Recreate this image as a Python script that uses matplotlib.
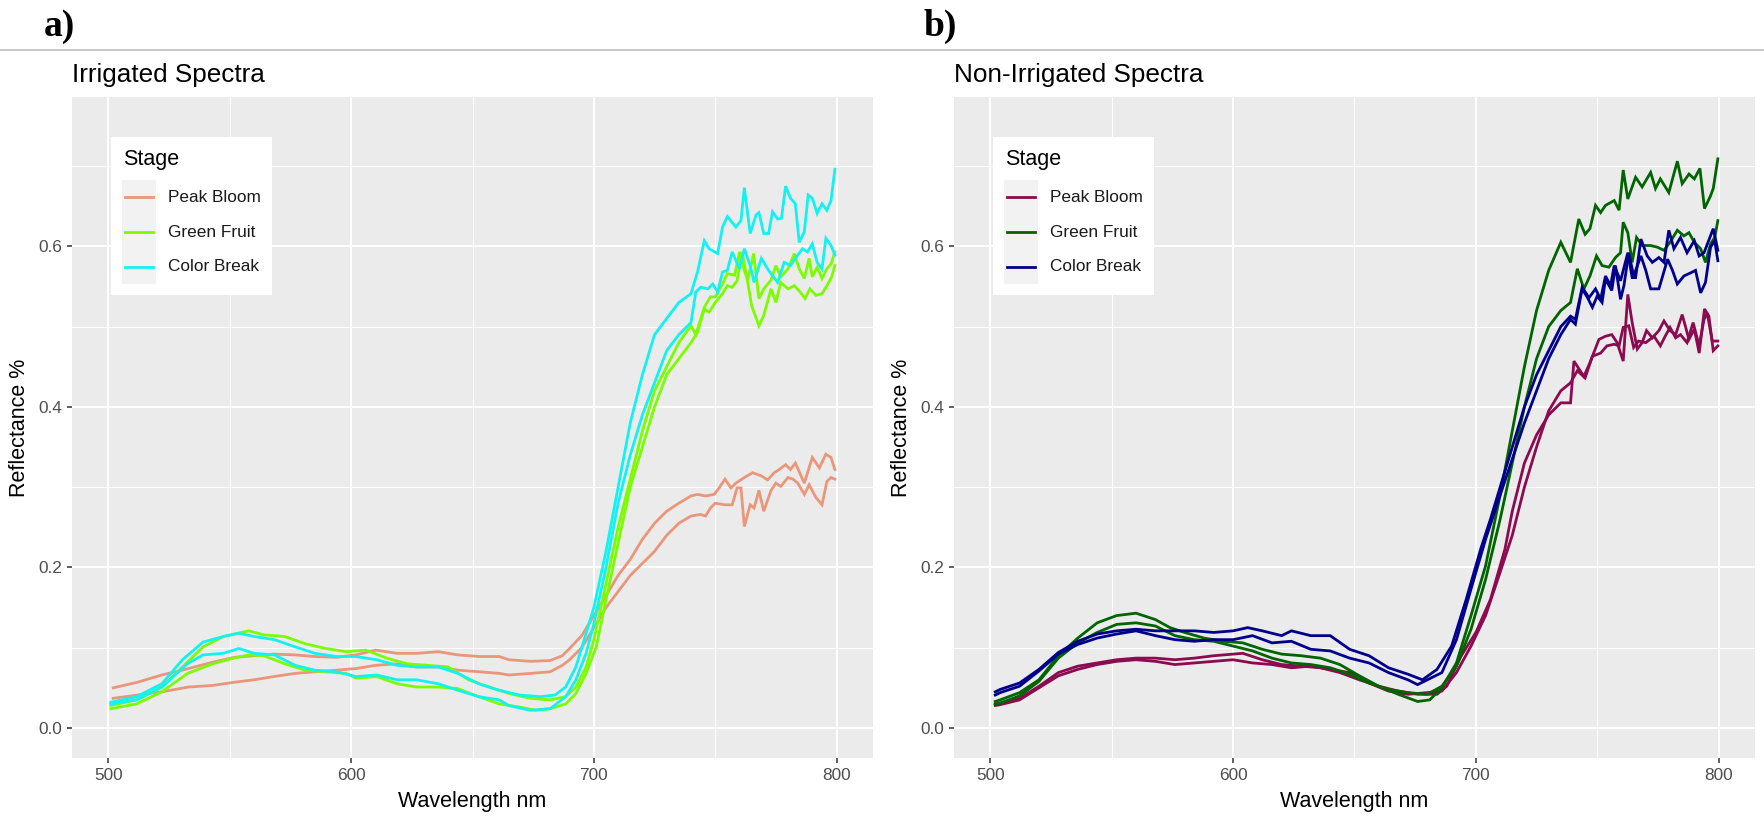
import matplotlib
matplotlib.use("Agg")
import matplotlib.pyplot as plt
from matplotlib.patches import Rectangle
from matplotlib.lines import Line2D

# ---------------- data ----------------
stages = ["Peak Bloom", "Green Fruit", "Color Break"]
colors_a = ["#E9967A", "#7CFC00", "#12F2F2"]
colors_b = ["#8B0A50", "#006400", "#00008B"]
panel_titles = ["Irrigated Spectra", "Non-Irrigated Spectra"]
panel_tags = ["a)", "b)"]
x_ticks = [500, 600, 700, 800]
y_ticks = [0.0, 0.2, 0.4, 0.6]

# Irrigated, Peak Bloom
a_pb1_wl = [502, 512, 522, 533, 543, 552, 560, 568, 577, 585, 594, 602, 610, 619, 627, 636, 644, 653, 661, 665, 674, 682, 687, 690, 695, 700, 705, 710, 715, 720, 725, 730, 735, 740,
            742.7, 746, 749.6, 751.6, 754, 756.5, 758.5, 762, 765.4, 769, 771.6, 774.3, 776.4, 779, 781, 783, 786.7, 790, 792.9, 795.6, 797.7, 799.3]
a_pb1_r = [0.050, 0.057, 0.066, 0.074, 0.082, 0.088, 0.090, 0.092, 0.091, 0.089, 0.088, 0.091, 0.097, 0.093, 0.093, 0.095, 0.091, 0.089, 0.089, 0.085, 0.083, 0.084, 0.090, 0.099, 0.115, 0.140, 0.165, 0.190, 0.210, 0.235, 0.255, 0.270, 0.280, 0.289,
           0.291, 0.289, 0.291, 0.299, 0.310, 0.299, 0.305, 0.312, 0.318, 0.314, 0.309, 0.318, 0.322, 0.328, 0.322, 0.330, 0.305, 0.337, 0.324, 0.341, 0.337, 0.322]
a_pb2_wl = [502, 512, 522, 533, 543, 552, 560, 568, 577, 585, 594, 602, 610, 619, 627, 636, 644, 653, 661, 665, 674, 682, 687, 690, 695, 700, 705, 710, 715, 720, 725, 730, 735, 740,
            744, 746, 748, 750, 754, 757, 759, 760.6, 762, 764.4, 766, 768, 770, 773, 775, 777, 780, 782, 784, 786.7, 788.7, 791.5, 794, 796, 797.7, 799.3]
a_pb2_r = [0.037, 0.041, 0.045, 0.051, 0.053, 0.057, 0.060, 0.064, 0.068, 0.070, 0.072, 0.074, 0.078, 0.080, 0.076, 0.076, 0.072, 0.070, 0.068, 0.066, 0.068, 0.070, 0.078, 0.085, 0.100, 0.125, 0.150, 0.170, 0.190, 0.205, 0.220, 0.240, 0.255, 0.264,
           0.266, 0.264, 0.274, 0.280, 0.278, 0.278, 0.299, 0.299, 0.251, 0.278, 0.274, 0.296, 0.270, 0.296, 0.305, 0.301, 0.312, 0.310, 0.305, 0.291, 0.303, 0.287, 0.278, 0.307, 0.312, 0.310]

# Irrigated, Green Fruit
a_gf1_wl = [501, 511.6, 522, 530.5, 539, 547.4, 557.9, 564, 572.6, 581, 589.5, 598, 606, 614.7, 623, 631.6, 640, 648.4, 656.8, 665, 673.7, 682, 688.4, 692.6, 696.8, 700, 705, 710, 715, 720, 725, 730, 735, 740,
            742, 745.5, 748, 750, 753, 755, 758, 760, 762, 763.4, 765.8, 768, 770, 773, 775, 777, 780, 782.6, 784.6, 786.7, 788.7, 790, 792, 794, 796, 797.7, 799.3]
a_gf1_r = [0.028, 0.035, 0.051, 0.076, 0.101, 0.114, 0.121, 0.116, 0.114, 0.105, 0.099, 0.095, 0.097, 0.087, 0.080, 0.078, 0.076, 0.060, 0.051, 0.043, 0.037, 0.035, 0.039, 0.051, 0.076, 0.110, 0.180, 0.250, 0.310, 0.370, 0.420, 0.450, 0.480, 0.501,
           0.490, 0.524, 0.537, 0.537, 0.553, 0.566, 0.564, 0.593, 0.570, 0.558, 0.591, 0.535, 0.547, 0.558, 0.576, 0.562, 0.572, 0.591, 0.572, 0.560, 0.585, 0.562, 0.574, 0.560, 0.572, 0.578, 0.593]
a_gf2_wl = [501, 511.6, 522, 532.6, 543, 551.6, 557.9, 564, 572.6, 581, 589.5, 598, 602, 610.5, 619, 627, 636, 644, 652.6, 661, 669.5, 676, 682, 688.4, 692.6, 696.8, 701, 705, 710, 715, 720, 725, 730, 735, 740,
            742.7, 745.5, 747.5, 750, 753, 755, 757, 759, 761, 763.4, 765, 768, 770, 773, 775, 777, 780, 782.6, 785, 787, 789, 791.5, 794, 796, 798, 799.3]
a_gf2_r = [0.024, 0.030, 0.045, 0.068, 0.080, 0.087, 0.091, 0.090, 0.080, 0.072, 0.070, 0.068, 0.062, 0.064, 0.055, 0.051, 0.051, 0.049, 0.039, 0.030, 0.026, 0.022, 0.024, 0.030, 0.043, 0.068, 0.101, 0.160, 0.230, 0.300, 0.350, 0.400, 0.440, 0.460, 0.480,
           0.493, 0.522, 0.518, 0.530, 0.541, 0.551, 0.549, 0.557, 0.593, 0.555, 0.526, 0.501, 0.514, 0.547, 0.530, 0.555, 0.547, 0.551, 0.543, 0.535, 0.547, 0.539, 0.541, 0.551, 0.562, 0.576]

# Irrigated, Color Break
a_cb1_wl = [501, 511.6, 522, 530.5, 539, 547.4, 553.7, 560, 568.4, 577, 585, 594, 602, 610.5, 619, 627, 636, 644, 652.6, 661, 669.5, 678, 684, 688.4, 692.6, 696.8, 700, 705, 710, 715, 720, 725, 730, 735, 740,
            742.7, 745.5, 747.5, 751, 753, 755, 758.5, 760.6, 762, 764.4, 766.8, 768, 770, 772, 773.6, 775.7, 777.3, 779, 781, 783, 784.6, 786.7, 788.3, 790, 792, 794, 796, 797.7, 799.3]
a_cb1_r = [0.032, 0.039, 0.055, 0.085, 0.107, 0.114, 0.118, 0.114, 0.110, 0.101, 0.093, 0.089, 0.089, 0.085, 0.078, 0.076, 0.076, 0.068, 0.055, 0.047, 0.041, 0.039, 0.041, 0.051, 0.076, 0.118, 0.150, 0.220, 0.300, 0.380, 0.440, 0.490, 0.510, 0.530, 0.541,
           0.568, 0.607, 0.597, 0.591, 0.624, 0.637, 0.624, 0.632, 0.673, 0.616, 0.639, 0.642, 0.616, 0.616, 0.643, 0.634, 0.635, 0.675, 0.660, 0.653, 0.605, 0.618, 0.664, 0.660, 0.641, 0.653, 0.645, 0.657, 0.696]
a_cb2_wl = [501, 511.6, 522, 532.6, 539, 547.4, 553.7, 560, 568.4, 577, 585, 594, 602, 610.5, 619, 627, 636, 644, 652.6, 661, 665, 673.7, 682, 688.4, 692.6, 696.8, 700, 705, 710, 715, 720, 725, 730, 735, 740,
            742, 744, 747, 749, 751, 753, 755, 757, 760, 762, 764.4, 766, 769, 772, 775.7, 778.4, 781, 783, 786, 788, 790, 792, 794, 795.6, 797.7, 799.3]
a_cb2_r = [0.030, 0.035, 0.051, 0.080, 0.091, 0.093, 0.099, 0.093, 0.091, 0.078, 0.072, 0.070, 0.064, 0.066, 0.060, 0.060, 0.055, 0.047, 0.039, 0.035, 0.028, 0.022, 0.024, 0.039, 0.060, 0.093, 0.130, 0.200, 0.280, 0.340, 0.390, 0.430, 0.470, 0.490, 0.505,
           0.543, 0.549, 0.547, 0.553, 0.543, 0.568, 0.570, 0.593, 0.572, 0.597, 0.576, 0.555, 0.585, 0.570, 0.555, 0.580, 0.576, 0.585, 0.597, 0.593, 0.603, 0.580, 0.572, 0.610, 0.601, 0.589]

# Non-irrigated, Peak Bloom
b_pb1_wl = [502, 504, 512, 520, 528, 536, 544, 552, 560, 568, 576, 584, 592, 600, 604, 612, 620, 628, 636, 644, 652, 660, 668, 676, 684, 688, 694, 700, 706, 712, 715, 720, 725, 730, 735, 739,
            740.4, 744.5, 747, 750.7, 753.4, 756, 758.2, 760.7, 762.6, 764.4, 766.5, 768.5, 770.3, 772.7, 775.4, 777.5, 780, 782.3, 785, 787.8, 790, 792, 794.2, 796, 797.8, 799.7]
b_pb1_r = [0.030, 0.031, 0.037, 0.052, 0.069, 0.077, 0.081, 0.085, 0.087, 0.087, 0.085, 0.087, 0.090, 0.092, 0.093, 0.085, 0.079, 0.077, 0.075, 0.069, 0.060, 0.052, 0.046, 0.042, 0.042, 0.052, 0.090, 0.119, 0.160, 0.223, 0.270, 0.330, 0.365, 0.390, 0.405, 0.405,
           0.457, 0.438, 0.455, 0.484, 0.488, 0.490, 0.480, 0.457, 0.540, 0.505, 0.472, 0.480, 0.495, 0.486, 0.495, 0.507, 0.495, 0.490, 0.515, 0.484, 0.497, 0.467, 0.522, 0.513, 0.470, 0.476]
b_pb2_wl = [502, 504, 512, 520, 528, 536, 544, 552, 560, 568, 576, 584, 592, 600, 608, 616, 624, 632, 640, 648, 656, 664, 672, 680, 686, 692, 698, 704, 710, 715, 720, 725, 730, 735, 739,
            741.8, 745, 748, 751.4, 754, 757, 759, 760.7, 763, 765, 767, 770, 773.4, 776, 778, 780, 782.3, 784.3, 787, 789.5, 792, 794, 795.3, 797.4, 799.7]
b_pb2_r = [0.028, 0.029, 0.035, 0.050, 0.065, 0.073, 0.079, 0.083, 0.085, 0.083, 0.079, 0.081, 0.083, 0.085, 0.081, 0.079, 0.075, 0.077, 0.073, 0.069, 0.056, 0.046, 0.042, 0.044, 0.046, 0.069, 0.102, 0.140, 0.194, 0.240, 0.300, 0.350, 0.395, 0.420, 0.430,
           0.445, 0.436, 0.463, 0.467, 0.476, 0.478, 0.476, 0.499, 0.501, 0.474, 0.482, 0.480, 0.488, 0.476, 0.488, 0.499, 0.486, 0.490, 0.480, 0.505, 0.476, 0.509, 0.517, 0.482, 0.482]

# Non-irrigated, Green Fruit
b_gf1_wl = [502, 504, 512, 520, 528, 536, 544, 552, 560, 568, 574, 580, 588, 596, 604, 612, 620, 628, 636, 644, 652, 660, 668, 676, 681, 686, 692, 698, 704, 710, 715, 720, 725, 730, 735, 739,
            742.4, 745, 747, 749.3, 751.4, 753.4, 757, 759, 760.7, 762.6, 765.8, 768.5, 772, 774, 776, 779.5, 783, 785, 787.8, 790, 792.3, 794.2, 796.7, 797.8, 799.7]
b_gf1_r = [0.033, 0.035, 0.044, 0.060, 0.090, 0.112, 0.131, 0.140, 0.143, 0.135, 0.125, 0.119, 0.112, 0.108, 0.106, 0.098, 0.092, 0.090, 0.087, 0.079, 0.065, 0.052, 0.042, 0.033, 0.035, 0.050, 0.081, 0.140, 0.202, 0.290, 0.370, 0.450, 0.520, 0.570, 0.605, 0.580,
           0.634, 0.615, 0.622, 0.651, 0.642, 0.651, 0.657, 0.645, 0.695, 0.659, 0.686, 0.674, 0.692, 0.672, 0.684, 0.667, 0.706, 0.678, 0.690, 0.684, 0.697, 0.647, 0.663, 0.672, 0.709]
b_gf2_wl = [502, 504, 512, 520, 528, 536, 544, 552, 560, 568, 576, 584, 592, 600, 608, 616, 624, 632, 640, 648, 656, 664, 672, 680, 686, 692, 698, 704, 710, 715, 720, 725, 730, 735, 739,
            741.8, 744.5, 747, 749.7, 752, 754.8, 757.5, 759.6, 760.7, 762.6, 764.4, 766.2, 768.5, 772, 774.7, 777.5, 780, 783, 785.7, 787.8, 790, 792.6, 794.6, 796.7, 798.4, 799.7]
b_gf2_r = [0.029, 0.031, 0.040, 0.058, 0.087, 0.106, 0.119, 0.129, 0.131, 0.127, 0.115, 0.110, 0.108, 0.102, 0.096, 0.087, 0.081, 0.079, 0.075, 0.067, 0.056, 0.048, 0.044, 0.042, 0.052, 0.077, 0.123, 0.185, 0.260, 0.330, 0.400, 0.460, 0.500, 0.520, 0.530,
           0.572, 0.547, 0.563, 0.588, 0.576, 0.574, 0.586, 0.592, 0.630, 0.617, 0.580, 0.611, 0.601, 0.601, 0.599, 0.595, 0.605, 0.620, 0.613, 0.617, 0.605, 0.597, 0.580, 0.603, 0.611, 0.632]

# Non-irrigated, Color Break
b_cb1_wl = [502, 504, 512, 520, 528, 536, 544, 552, 560, 568, 576, 584, 592, 600, 606, 612, 620, 624, 632, 640, 648, 656, 664, 672, 678, 684, 690, 696, 702, 706, 710, 715, 720, 725, 730, 735, 739,
            741, 743.8, 746.6, 749.3, 751.4, 753.4, 755.5, 757, 759.6, 762.6, 764.4, 765.8, 768, 770.6, 772.7, 775.4, 777.5, 779.5, 781.6, 784.3, 787, 790, 792, 794, 797.8, 799.7]
b_cb1_r = [0.045, 0.048, 0.056, 0.073, 0.094, 0.108, 0.117, 0.121, 0.123, 0.121, 0.121, 0.121, 0.119, 0.121, 0.125, 0.121, 0.115, 0.121, 0.115, 0.115, 0.098, 0.090, 0.075, 0.067, 0.060, 0.073, 0.102, 0.160, 0.223, 0.260, 0.300, 0.350, 0.400, 0.440, 0.470, 0.500, 0.513,
           0.509, 0.549, 0.536, 0.547, 0.534, 0.563, 0.551, 0.576, 0.557, 0.592, 0.561, 0.561, 0.609, 0.588, 0.580, 0.586, 0.580, 0.620, 0.597, 0.611, 0.592, 0.607, 0.588, 0.592, 0.622, 0.595]
b_cb2_wl = [502, 504, 512, 520, 528, 536, 544, 552, 560, 568, 576, 584, 592, 600, 608, 616, 624, 632, 640, 648, 656, 664, 672, 676, 680, 686, 692, 698, 704, 710, 715, 720, 725, 730, 735, 739,
            741, 743.8, 746, 748, 750, 752, 753.4, 756, 757.5, 759.6, 761, 763, 765, 768, 770, 772, 775.4, 779, 781, 783, 785.7, 788.5, 790.5, 792.6, 794.6, 796.7, 798.4, 799.7]
b_cb2_r = [0.041, 0.044, 0.052, 0.071, 0.092, 0.104, 0.112, 0.117, 0.121, 0.115, 0.110, 0.108, 0.110, 0.110, 0.115, 0.106, 0.108, 0.098, 0.096, 0.087, 0.081, 0.069, 0.060, 0.054, 0.060, 0.069, 0.110, 0.173, 0.235, 0.290, 0.335, 0.380, 0.420, 0.460, 0.490, 0.509,
           0.503, 0.547, 0.536, 0.524, 0.538, 0.530, 0.559, 0.545, 0.576, 0.534, 0.551, 0.592, 0.563, 0.588, 0.570, 0.547, 0.547, 0.584, 0.570, 0.553, 0.563, 0.567, 0.570, 0.542, 0.555, 0.599, 0.607, 0.582]

panel_a = [[(a_pb1_wl, a_pb1_r), (a_pb2_wl, a_pb2_r)],
           [(a_gf1_wl, a_gf1_r), (a_gf2_wl, a_gf2_r)],
           [(a_cb1_wl, a_cb1_r), (a_cb2_wl, a_cb2_r)]]
panel_b = [[(b_pb1_wl, b_pb1_r), (b_pb2_wl, b_pb2_r)],
           [(b_gf1_wl, b_gf1_r), (b_gf2_wl, b_gf2_r)],
           [(b_cb1_wl, b_cb1_r), (b_cb2_wl, b_cb2_r)]]

# ---------------- layout ----------------
W, H = 1765, 817
plt.rcParams['font.family'] = ['Liberation Sans', 'DejaVu Sans']
fig = plt.figure(figsize=(W / 100, H / 100), dpi=100)
fig.patch.set_facecolor("white")


def fx(x):
    return x / W


def fy(y):
    return 1 - y / H


panel_left = [72, 954]
panel_w = 801
panel_top, panel_bot = 97, 758
legend_left = [111, 993]

TICK_FS = 12.4
AX_FS = 15.5
TITLE_FS = 18.8

for k, (data, cols) in enumerate([(panel_a, colors_a), (panel_b, colors_b)]):
    L = panel_left[k]
    ax = fig.add_axes([fx(L), fy(panel_bot), panel_w / W, (panel_bot - panel_top) / H])
    ax.set_facecolor("#EBEBEB")
    for s in ax.spines.values():
        s.set_visible(False)
    for i, lines in enumerate(data):
        for wl, r in lines:
            ax.plot(wl, r, color=cols[i], lw=2.0, solid_joinstyle='miter', zorder=3)
    ax.set_xlim(485, 815)
    ax.set_ylim(-0.0374, 0.786)
    ax.set_xticks(x_ticks)
    ax.set_xticks([550, 650, 750], minor=True)
    ax.set_yticks(y_ticks)
    ax.set_yticks([0.1, 0.3, 0.5, 0.7], minor=True)
    ax.set_yticklabels([f"{v:.1f}" for v in y_ticks])
    ax.grid(which='major', color='white', lw=1.5, zorder=1)
    ax.grid(which='minor', color='white', lw=0.7, zorder=1)
    ax.set_axisbelow(True)
    ax.tick_params(which='major', length=3.6, width=1.1, color='#333333',
                   labelsize=TICK_FS, labelcolor='#4D4D4D', pad=3.6)
    ax.tick_params(which='minor', length=0)
    ax.text(0.5, -0.066, "Wavelength nm", transform=ax.transAxes, ha='center', va='center',
            fontsize=AX_FS, color='black')
    ax.text(-0.065, 0.5, "Reflectance %", transform=ax.transAxes, ha='center', va='center',
            rotation=90, fontsize=AX_FS, color='black')

    # plot title
    fig.text(fx(L), fy(82), panel_titles[k], ha='left', va='baseline', fontsize=TITLE_FS, color='black')

    # legend
    lx = legend_left[k]
    fig.add_artist(Rectangle((fx(lx), fy(295)), 161 / W, 158 / H, transform=fig.transFigure,
                             facecolor='white', edgecolor='none', zorder=5))
    fig.text(fx(lx + 12), fy(160), "Stage", ha='left', va='center', fontsize=AX_FS, zorder=6)
    fig.add_artist(Rectangle((fx(lx + 11), fy(284)), 34 / W, 104 / H, transform=fig.transFigure,
                             facecolor='#F2F2F2', edgecolor='none', zorder=6))
    for i, name in enumerate(stages):
        yc = 197.3 + i * 34.7
        fig.add_artist(Line2D([fx(lx + 14), fx(lx + 42)], [fy(yc), fy(yc)], transform=fig.transFigure,
                              color=cols[i], lw=2.0, zorder=7))
        fig.text(fx(lx + 57), fy(yc), name, ha='left', va='center', fontsize=TICK_FS, color='#1A1A1A', zorder=7)

    # panel tag
    fig.text(fx([44, 924][k]), fy(26), panel_tags[k], ha='left', va='center', fontsize=27,
             fontweight='bold', family=['Liberation Serif', 'DejaVu Serif'])

# separator line
fig.add_artist(Line2D([0, 1], [fy(50), fy(50)], transform=fig.transFigure, color='#BDBDBD', lw=1.2))

fig.savefig("out.png", dpi=100, facecolor='white')
